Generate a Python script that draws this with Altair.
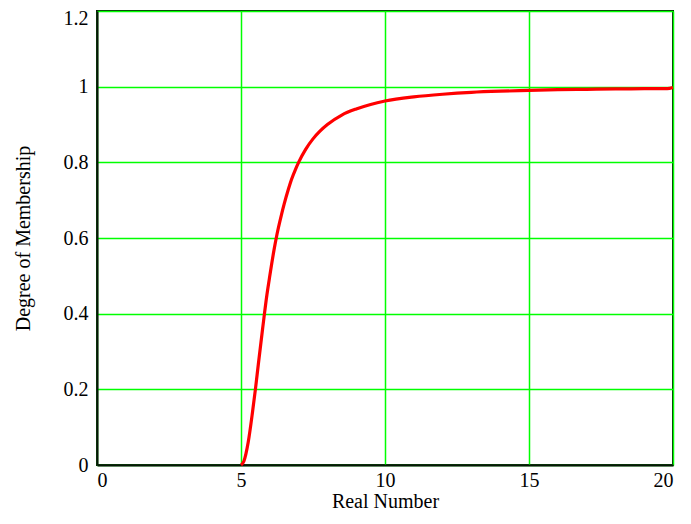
import altair as alt
import pandas as pd

x_vals = [5.0, 5.1, 5.25, 5.4, 5.5, 5.6, 5.75, 5.9, 6.0, 6.15, 6.25, 6.4, 6.5, 6.65, 6.75, 6.9, 7.0, 7.25, 7.5, 7.75, 8.0, 8.5, 9.0, 9.5, 10.0, 11.0, 12.0, 13.0, 14.0, 15.0, 16.0, 17.0, 18.0, 19.0, 19.8, 20.0]
y_vals = [0.0, 0.01, 0.06, 0.14, 0.2, 0.265, 0.36, 0.45, 0.5, 0.57, 0.61, 0.66, 0.69, 0.73, 0.754, 0.783, 0.8, 0.835, 0.862, 0.883, 0.9, 0.925, 0.941, 0.953, 0.962, 0.973, 0.98, 0.985, 0.988, 0.99, 0.992, 0.993, 0.994, 0.995, 0.995, 0.998]

x_ticks = [0, 5, 10, 15, 20]
y_ticks = [0, 0.2, 0.4, 0.6, 0.8, 1.0, 1.2]

df = pd.DataFrame({"x": x_vals, "y": y_vals})

font = "Liberation Serif"

chart = alt.Chart(df).mark_line(color="#ff0000", strokeWidth=3.2, interpolate="monotone").encode(
    x=alt.X("x:Q", scale=alt.Scale(domain=[0, 20], nice=False, zero=False),
            axis=alt.Axis(values=x_ticks, title="Real Number", grid=True, ticks=False,
                          labelPadding=5, titlePadding=1, format="d")),
    y=alt.Y("y:Q", scale=alt.Scale(domain=[0, 1.2], nice=False),
            axis=alt.Axis(values=y_ticks, title="Degree of Membership", grid=True, ticks=False,
                          labelPadding=9, titlePadding=30,
                          labelOffset={"expr": "datum.value > 1.1 ? 7 : 0"},
                          labelExpr="datum.value == 0 ? '0' : datum.value == 1 ? '1' : format(datum.value, '.1f')")),
).properties(
    width=576, height=454,
    autosize=alt.AutoSizeParams(type="none"),
    padding={"left": 89, "top": 3, "right": 10, "bottom": 51},
).configure_axis(
    gridColor="#00ff00", gridOpacity=1, gridWidth=1.5,
    domainColor="#0a140a", domainWidth=2,
    labelFont=font, labelFontSize=20, labelColor="#000000",
    titleFont=font, titleFontSize=20, titleFontWeight="normal", titleColor="#000000",
).configure_view(
    stroke="#0a140a", strokeWidth=2,
)

chart.save("out.html", embed_options={"renderer": "svg", "actions": False})
